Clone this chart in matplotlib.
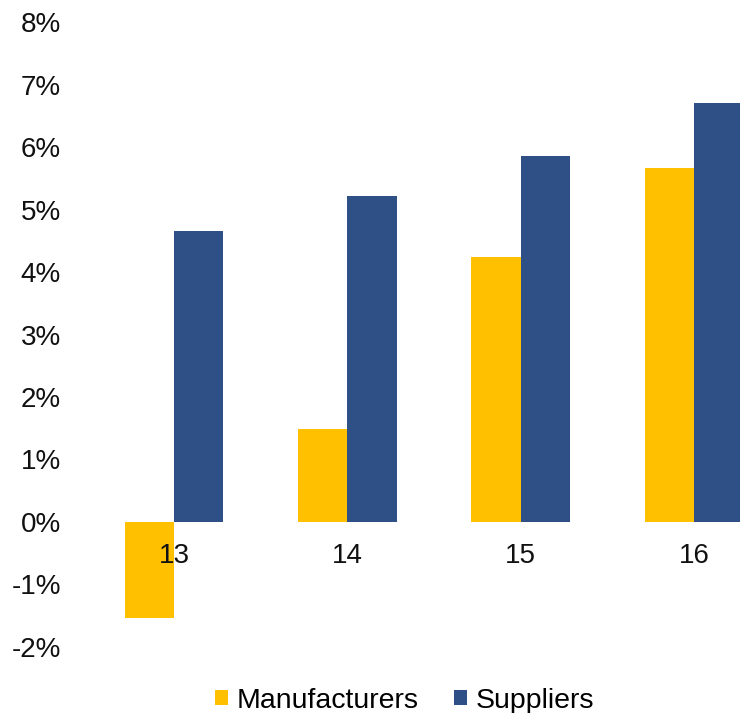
import matplotlib.pyplot as plt
import numpy as np
from matplotlib.patches import Patch

plt.rcParams['font.family'] = ['Liberation Sans', 'DejaVu Sans']

years = ['13', '14', '15', '16']
manufacturers = [-1.53, 1.48, 4.24, 5.66]
suppliers = [4.66, 5.21, 5.85, 6.71]
yticks = [-2, -1, 0, 1, 2, 3, 4, 5, 6, 7, 8]

yellow = '#FFC000'
blue = '#2F5086'

fig = plt.figure(figsize=(7.4, 7.13), dpi=100)
ax = fig.add_axes([0.118, 0.0926, 0.937, 0.8765])

x = np.arange(len(years))
w = 0.285
ax.bar(x - w / 2, manufacturers, width=w, color=yellow, edgecolor='none')
ax.bar(x + w / 2, suppliers, width=w, color=blue, edgecolor='none')

ax.set_xlim(-0.5, 3.5)
ax.set_ylim(-2, 8)
ax.set_yticks(yticks)
ax.set_yticklabels([f'{t}%' for t in yticks])
ax.set_xticks(x)
ax.set_xticklabels(years)

for s in ax.spines.values():
    s.set_visible(False)
ax.spines['bottom'].set_position(('data', 0))
ax.tick_params(axis='y', length=0, pad=19, labelsize=20, labelcolor='#111111')
ax.tick_params(axis='x', length=0, pad=15, labelsize=20, labelcolor='#111111')

handles = [Patch(facecolor=yellow, label='Manufacturers'),
           Patch(facecolor=blue, label='Suppliers')]
fig.legend(handles=handles, loc='center', bbox_to_anchor=(0.547, 0.017),
           ncol=2, frameon=False, fontsize=20.5, handlelength=0.46,
           handleheight=0.46, handletextpad=0.3, columnspacing=1.25,
           borderpad=0, borderaxespad=0)

fig.savefig('out.png', dpi=100)
